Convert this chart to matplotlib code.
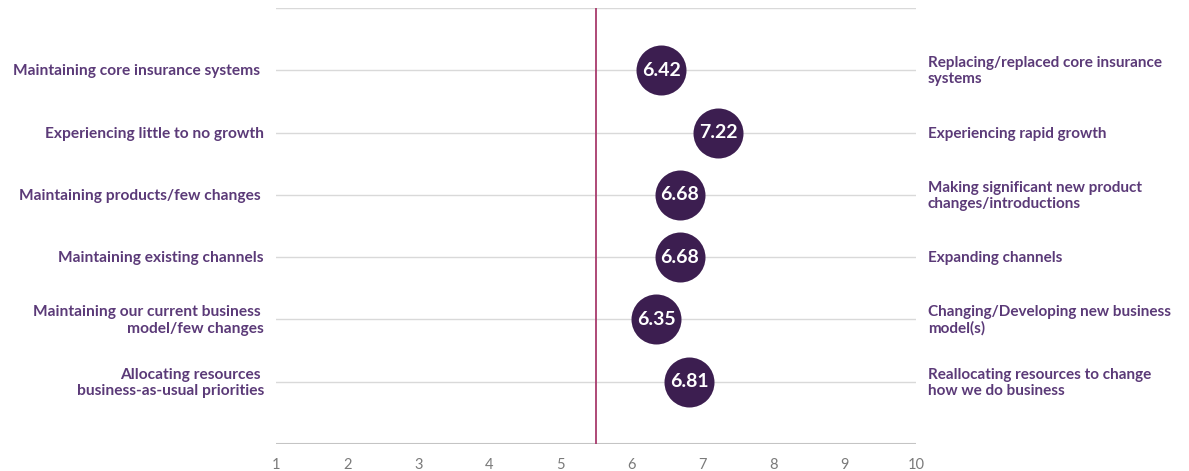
import matplotlib
matplotlib.use("Agg")
import matplotlib.pyplot as plt

left_labels = [
    "Maintaining core insurance systems ",
    "Experiencing little to no growth",
    "Maintaining products/few changes ",
    "Maintaining existing channels",
    "Maintaining our current business \nmodel/few changes",
    "Allocating resources \nbusiness-as-usual priorities",
]
right_labels = [
    "Replacing/replaced core insurance\nsystems",
    "Experiencing rapid growth",
    "Making significant new product\nchanges/introductions",
    "Expanding channels",
    "Changing/Developing new business\nmodel(s)",
    "Reallocating resources to change\nhow we do business",
]
scores = [6.42, 7.22, 6.68, 6.68, 6.35, 6.81]
midpoint = 5.5
xticks = [1, 2, 3, 4, 5, 6, 7, 8, 9, 10]

label_color = "#5b3a78"
dot_color = "#3c1e50"
line_color = "#a83a6c"
grid_color = "#d9d9d9"

plt.rcParams["font.family"] = ["Lato", "DejaVu Sans"]

fig = plt.figure(figsize=(11.89, 4.71), dpi=100)
ax = fig.add_axes([276/1189, 1-444/471, 640/1189, 436/471])

n = len(scores)
rows = list(range(1, n + 1))
ax.set_xlim(1, 10)
ax.set_ylim(n + 1, 0)

for y in range(0, n + 1):
    ax.axhline(y, color=grid_color, lw=1.0, zorder=1)
ax.axhline(n + 1, color="#c4c4c4", lw=1.5, zorder=1)

ax.axvline(midpoint, color=line_color, lw=1.3, zorder=2)

ax.scatter(scores, rows, s=1296, color=dot_color, zorder=3, linewidths=0)
for x, y in zip(scores, rows):
    ax.text(x, y, f"{x:.2f}", color="white", fontsize=14, fontweight="bold",
            ha="center", va="center", zorder=4)

for y, lab in zip(rows, left_labels):
    ax.annotate(lab, xy=(0, y), xycoords=("axes fraction", "data"),
                xytext=(-12, -1), textcoords="offset pixels",
                ha="right", va="center", fontsize=11.2, fontweight="bold",
                color=label_color, linespacing=1.2)
for y, lab in zip(rows, right_labels):
    ax.annotate(lab, xy=(1, y), xycoords=("axes fraction", "data"),
                xytext=(12, -1), textcoords="offset pixels",
                ha="left", va="center", fontsize=11.0, fontweight="bold",
                color=label_color, linespacing=1.2)

for s in ax.spines.values():
    s.set_visible(False)
ax.set_yticks([])
ax.set_xticks(xticks)
ax.set_xticklabels([str(t) for t in xticks], color="#7a7a7a", fontsize=10.5)
ax.tick_params(axis="x", length=0, pad=10)

fig.savefig("out.png", dpi=100)
